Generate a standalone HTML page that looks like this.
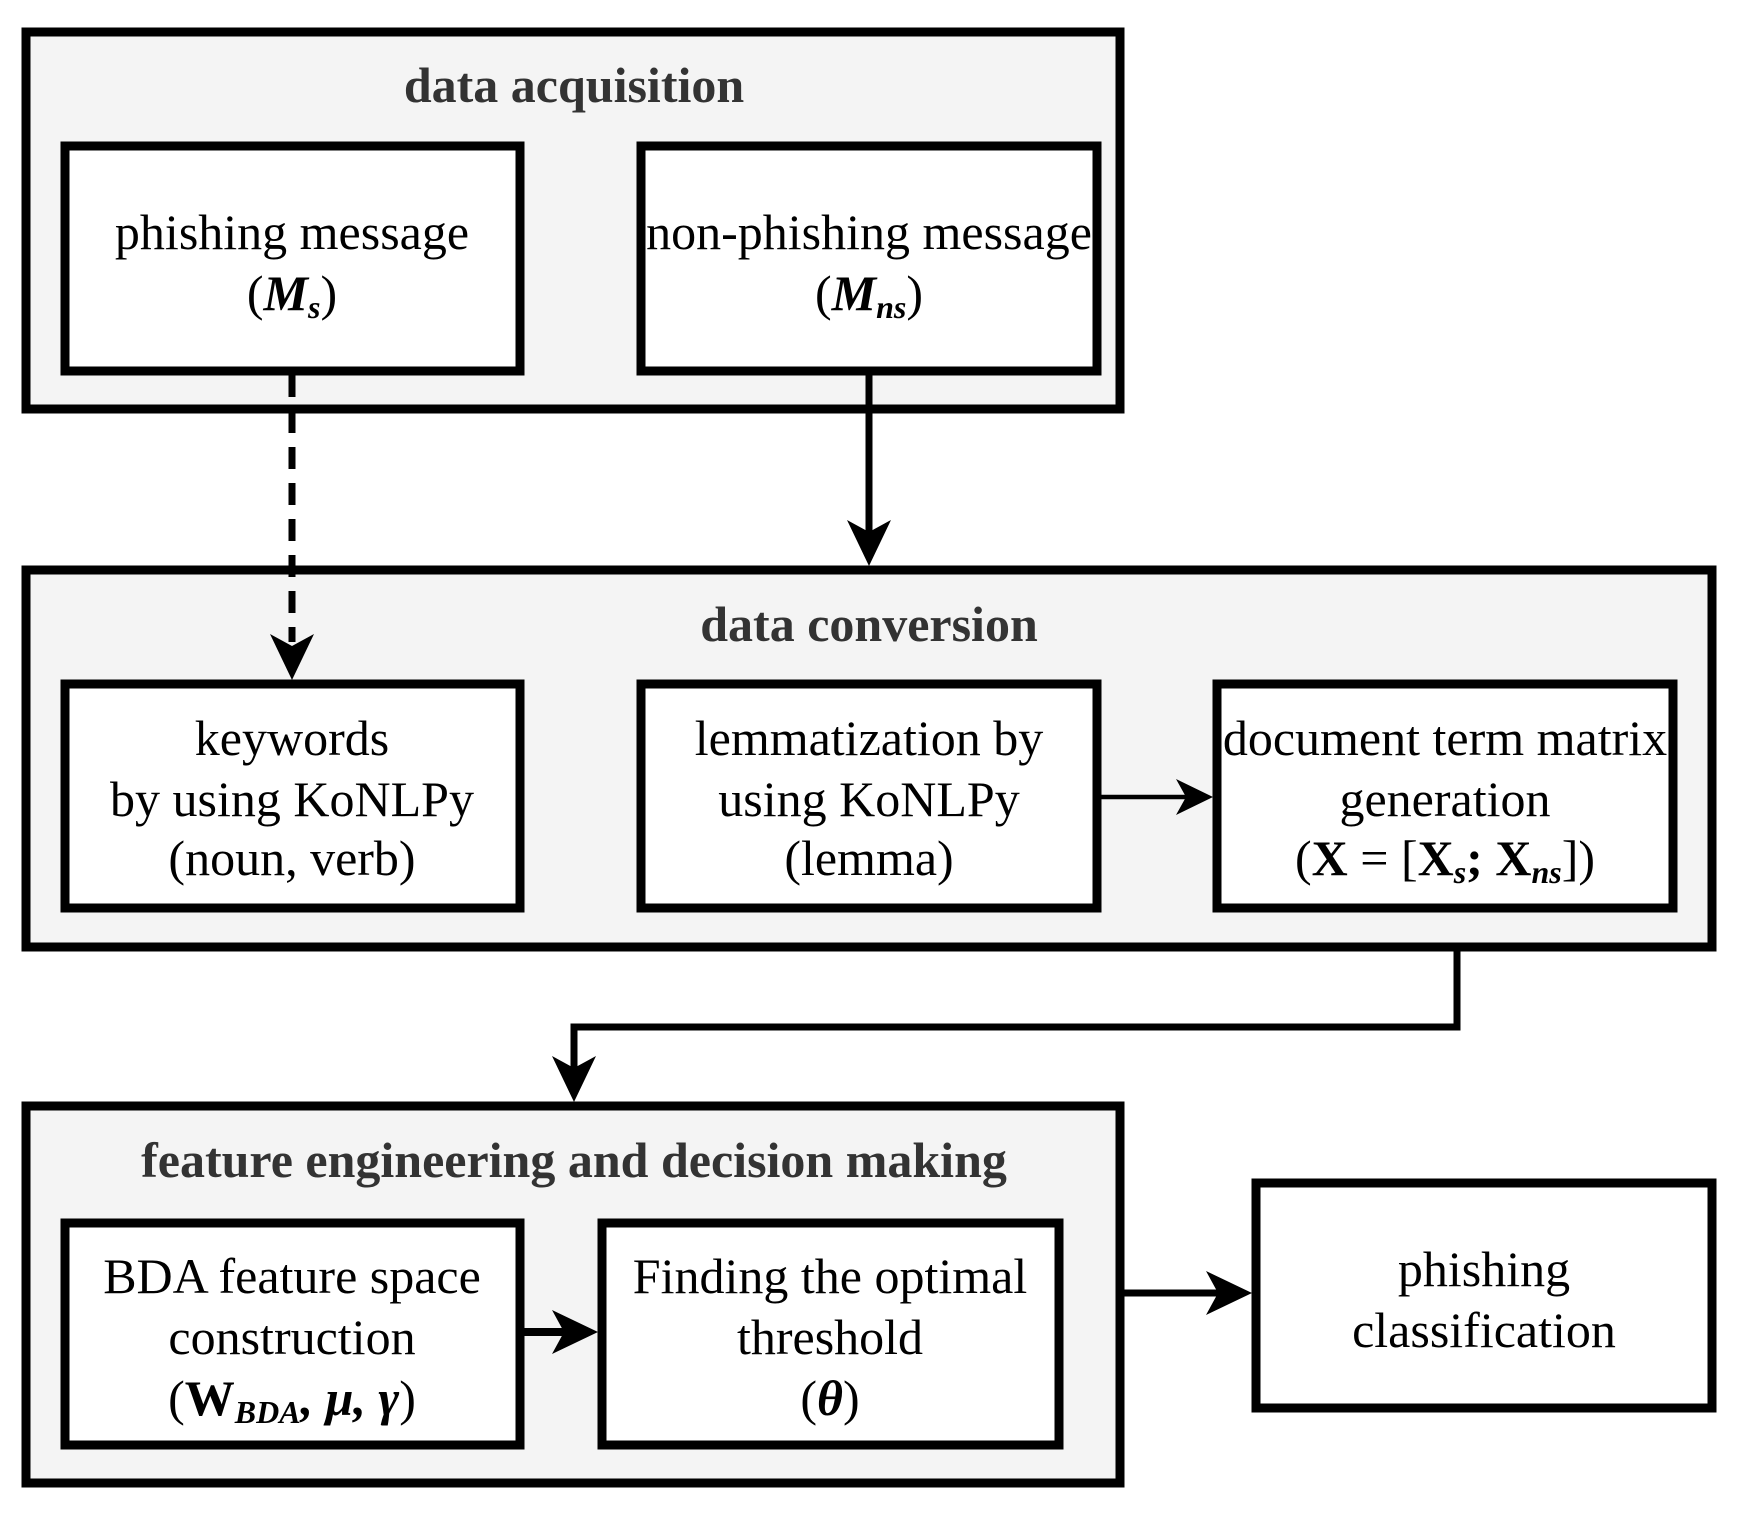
<!DOCTYPE html>
<html><head><meta charset="utf-8"><style>
html,body{margin:0;padding:0;background:#fff}
svg{display:block}
text{font-family:"Liberation Serif","DejaVu Serif",serif;font-size:50px;fill:#000;text-anchor:middle}
.t{font-weight:bold;fill:#333}
.m{font-style:italic;font-weight:bold}
</style></head><body>
<svg width="1740" height="1516" viewBox="0 0 1740 1516" xmlns="http://www.w3.org/2000/svg">
<g stroke="#000" stroke-width="9">
<rect x="26" y="32" width="1094" height="377" fill="#f4f4f4"/>
<rect x="26" y="570" width="1686" height="377" fill="#f4f4f4"/>
<rect x="26" y="1106" width="1094" height="377" fill="#f4f4f4"/>
<rect x="65" y="146" width="455" height="225" fill="#fff"/>
<rect x="641" y="146" width="456" height="225" fill="#fff"/>
<rect x="65" y="684" width="455" height="224" fill="#fff"/>
<rect x="641" y="684" width="456" height="224" fill="#fff"/>
<rect x="1217" y="684" width="456" height="224" fill="#fff"/>
<rect x="65" y="1223" width="455" height="222" fill="#fff"/>
<rect x="602" y="1223" width="457" height="222" fill="#fff"/>
<rect x="1256" y="1183" width="456" height="225" fill="#fff"/>
</g>
<g stroke="#000" stroke-width="7" fill="none">
<line x1="292" y1="375" x2="292" y2="642" stroke-dasharray="22,14"/>
<path d="M270,634 L292,680 L314,634 L292,646 Z" fill="#000" stroke="none"/>
<line x1="869" y1="375" x2="869" y2="540"/>
<path d="M847,520 L869,566 L891,520 L869,532 Z" fill="#000" stroke="none"/>
<polyline points="1457,951 1457,1027 574,1027 574,1080"/>
<path d="M552,1056 L574,1102 L596,1056 L574,1068 Z" fill="#000" stroke="none"/>
<line x1="1101" y1="797" x2="1190" y2="797" stroke-width="4.5"/>
<path d="M1176,779 L1213,797 L1176,815 L1186,797 Z" fill="#000" stroke="none"/>
<line x1="524" y1="1332" x2="575" y2="1332" stroke-width="8"/>
<path d="M552,1310 L598,1332 L552,1354 L564,1332 Z" fill="#000" stroke="none"/>
<line x1="1124" y1="1293" x2="1225" y2="1293"/>
<path d="M1206,1271 L1252,1293 L1206,1315 L1218,1293 Z" fill="#000" stroke="none"/>
</g>
<text class="t" x="574" y="102">data acquisition</text>
<text class="t" x="869" y="641">data conversion</text>
<text class="t" x="574" y="1177">feature engineering and decision making</text>
<text x="292" y="249">phishing message</text>
<text x="292" y="310">(<tspan class="m">M</tspan><tspan class="m" font-size="32" dy="8">s</tspan><tspan dy="-8">)</tspan></text>
<text x="869" y="249">non-phishing message</text>
<text x="869" y="310">(<tspan class="m">M</tspan><tspan class="m" font-size="32" dy="8">ns</tspan><tspan dy="-8">)</tspan></text>
<text x="292" y="755">keywords</text>
<text x="292" y="816">by using KoNLPy</text>
<text x="292" y="875">(noun, verb)</text>
<text x="869" y="755">lemmatization by</text>
<text x="869" y="816">using KoNLPy</text>
<text x="869" y="875">(lemma)</text>
<text x="1445" y="755">document term matrix</text>
<text x="1445" y="816">generation</text>
<text x="1445" y="875">(<tspan font-weight="bold">X</tspan> = [<tspan font-weight="bold">X</tspan><tspan class="m" font-size="32" dy="8">s</tspan><tspan dy="-8" font-weight="bold">; X</tspan><tspan class="m" font-size="32" dy="8">ns</tspan><tspan dy="-8">])</tspan></text>
<text x="292" y="1293">BDA feature space</text>
<text x="292" y="1354">construction</text>
<text x="292" y="1415">(<tspan font-weight="bold">W</tspan><tspan class="m" font-size="32" dy="8">BDA</tspan><tspan dy="-8" class="m">, μ, γ</tspan>)</text>
<text x="830" y="1293">Finding the optimal</text>
<text x="830" y="1354">threshold</text>
<text x="830" y="1415">(<tspan class="m">θ</tspan>)</text>
<text x="1484" y="1286">phishing</text>
<text x="1484" y="1347">classification</text>
</svg>
</body></html>
